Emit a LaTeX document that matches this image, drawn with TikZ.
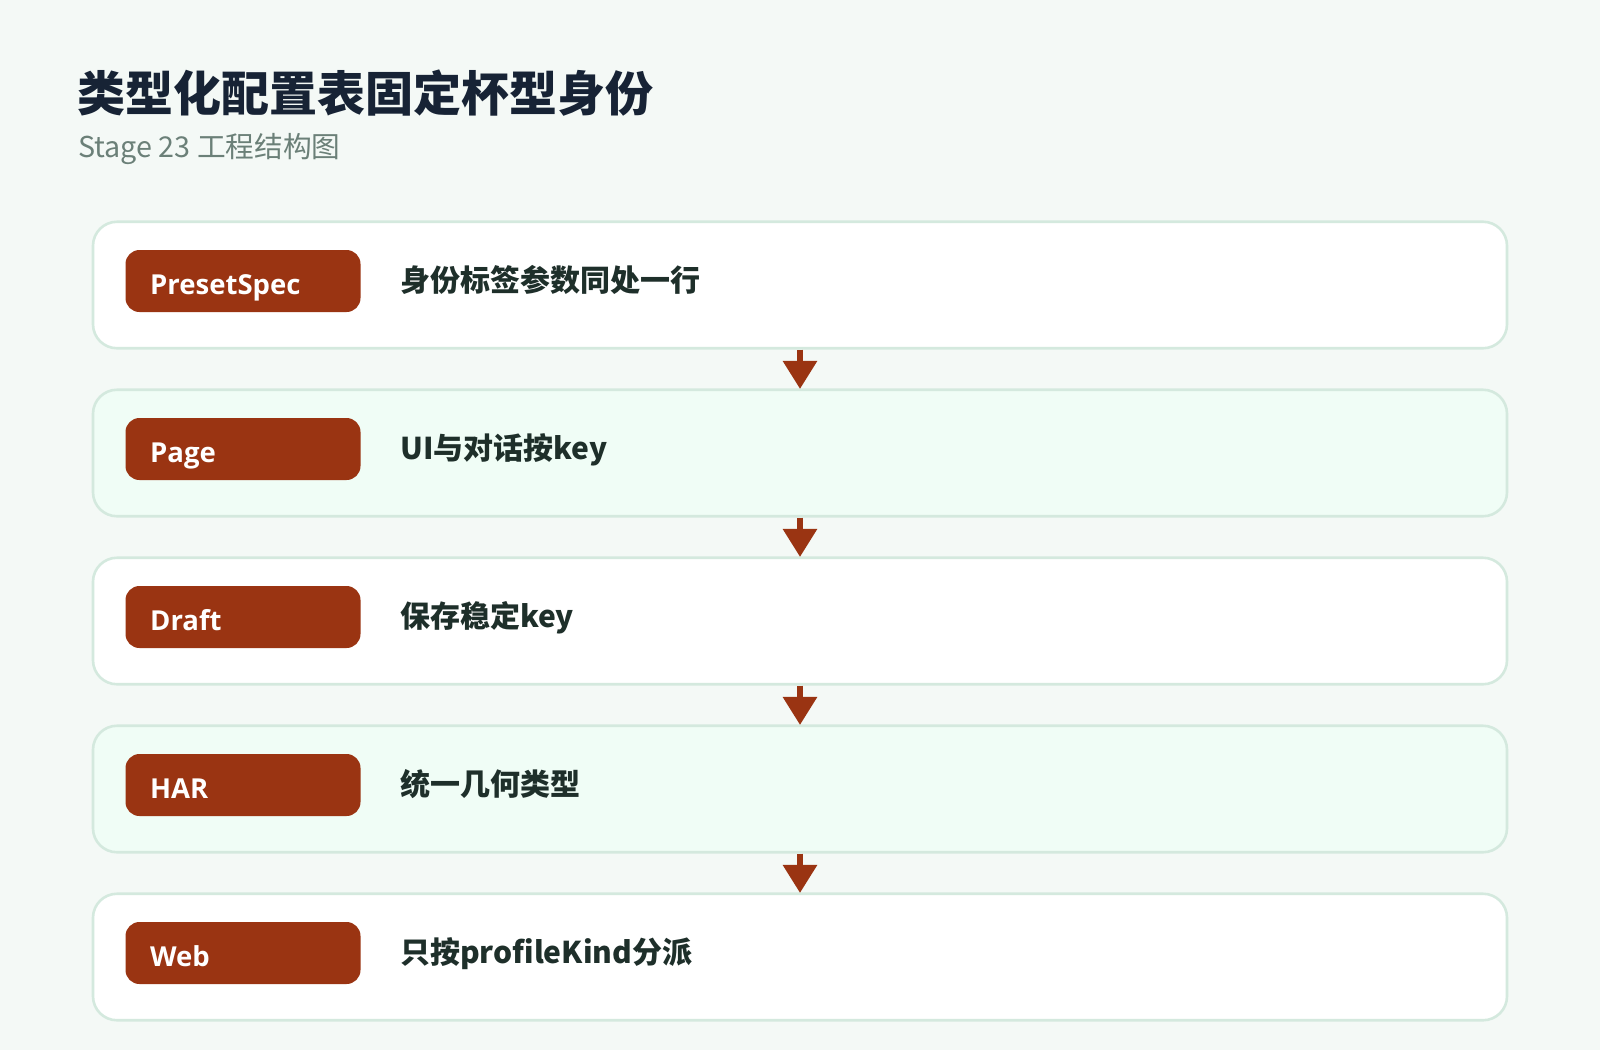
\documentclass[tikz,border=0pt]{standalone}
\usepackage{fontspec}
\setmainfont{Noto Sans CJK SC}
\newfontfamily\cjkfont{Noto Sans CJK SC}
\newfontfamily\latinfont{Open Sans}
\usetikzlibrary{arrows.meta}
\definecolor{pagebg}{HTML}{F4F9F6}
\definecolor{rowborder}{HTML}{D4E9DE}
\definecolor{mintfill}{HTML}{F0FDF6}
\definecolor{tagfill}{HTML}{9A3412}
\definecolor{titlecol}{HTML}{172335}
\definecolor{subcol}{HTML}{6B8078}
\definecolor{desccol}{HTML}{1E2F2A}
\tikzset{
  rowbox/.style={draw=rowborder, line width=2.6pt, rounded corners=24pt,
    minimum width=1414pt, minimum height=126.5pt, inner sep=0pt},
  tagbox/.style={fill=tagfill, rounded corners=14pt, minimum width=235pt,
    minimum height=62pt, inner sep=0pt},
  taglabel/.style={anchor=base west, inner sep=0pt, text=white,
    font=\latinfont\bfseries\fontsize{27.5}{32}\selectfont},
  desclabel/.style={anchor=base west, inner sep=0pt, text=desccol,
    font=\cjkfont\bfseries\fontsize{30}{36}\selectfont},
  flowarrow/.style={draw=tagfill, line width=6pt,
    -{Triangle[width=33pt,length=28pt]}, shorten >=-0.5pt}
}
\begin{document}
\begin{tikzpicture}[x=1pt,y=-1pt]
\useasboundingbox (0,0) rectangle (1600,1050);
\fill[pagebg] (0,0) rectangle (1600,1050);

\node[anchor=base west, inner sep=0pt, text=titlecol,
  font=\cjkfont\bfseries\fontsize{48}{56}\selectfont] (title) at (77,111) {类型化配置表固定杯型身份};
\node[anchor=base west, inner sep=0pt, text=subcol,
  font=\cjkfont\fontsize{28.7}{34}\selectfont] (subtitle) at (78,157) {Stage 23 工程结构图};

% rows
\node[rowbox, fill=white]    (b1) at (800,285) {};
\node[rowbox, fill=mintfill] (b2) at (800,453) {};
\node[rowbox, fill=white]    (b3) at (800,621) {};
\node[rowbox, fill=mintfill] (b4) at (800,789) {};
\node[rowbox, fill=white]    (b5) at (800,957) {};

% tags
\node[tagbox] (t1) at (243,281) {};
\node[tagbox] (t2) at (243,449) {};
\node[tagbox] (t3) at (243,617) {};
\node[tagbox] (t4) at (243,785) {};
\node[tagbox] (t5) at (243,953) {};

\node[taglabel] (l1) at (150,294) {PresetSpec};
\node[taglabel] (l2) at (150,462) {Page};
\node[taglabel] (l3) at (150,630) {Draft};
\node[taglabel] (l4) at (150,798) {HAR};
\node[taglabel] (l5) at (150,966) {Web};

\node[desclabel] (d1) at (400,291) {身份标签参数同处一行};
\node[desclabel] (d2) at (400,459) {UI与对话按key};
\node[desclabel] (d3) at (400,627) {保存稳定key};
\node[desclabel] (d4) at (400,795) {统一几何类型};
\node[desclabel] (d5) at (400,963) {只按profileKind分派};

% arrows
\draw[flowarrow] (b1.south) -- (b2.north);
\draw[flowarrow] (b2.south) -- (b3.north);
\draw[flowarrow] (b3.south) -- (b4.north);
\draw[flowarrow] (b4.south) -- (b5.north);
\end{tikzpicture}
\end{document}
